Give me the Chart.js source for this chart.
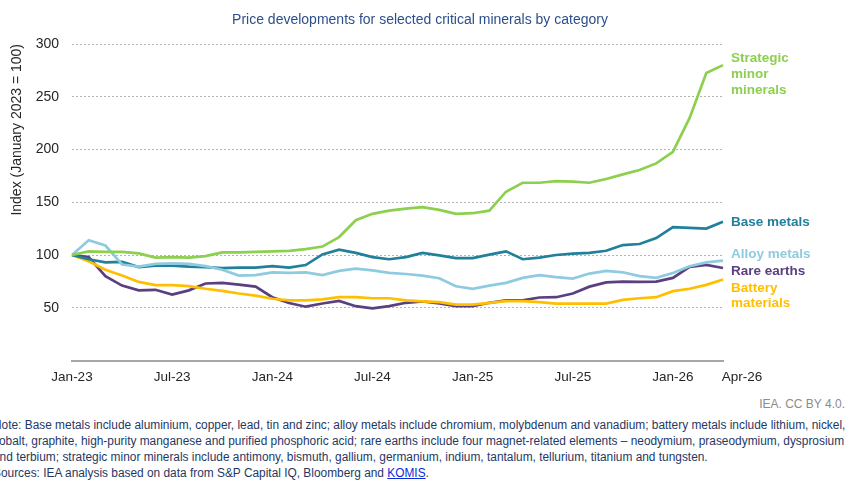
<!DOCTYPE html>
<html>
<head>
<meta charset="utf-8">
<script src="https://cdn.jsdelivr.net/npm/chart.js@4.4.1/dist/chart.umd.min.js"></script>
<style>
  body { margin: 0; background: #fff; font-family: "Liberation Sans", Arial, sans-serif; }
  #wrap { position: relative; width: 853px; height: 488px; overflow: hidden; }
  #box { position: absolute; left: 0; top: 0; width: 853px; height: 396px; }
  #title { position: absolute; left: 0; width: 840px; top: 11px; text-align: center;
           font-size: 14px; color: #2c4f8c; }
  #credit { position: absolute; right: 8px; top: 397px; font-size: 12px; color: #8c8c8c; }
  #notes { position: absolute; left: -7px; top: 417px; font-size: 12.5px; line-height: 16px;
           color: #1f3864; white-space: nowrap; transform: scaleX(0.951); transform-origin: 0 0; }
  #notes a { color: #0b2bd6; }
</style>
</head>
<body>
<div id="wrap">
  <div id="box"><canvas id="c"></canvas></div>
  <div id="title">Price developments for selected critical minerals by category</div>
  <div id="credit">IEA. CC BY 4.0.</div>
  <div id="notes">
    Note: Base metals include aluminium, copper, lead, tin and zinc; alloy metals include chromium, molybdenum and vanadium; battery metals include lithium, nickel,<br>
    cobalt, graphite, high-purity manganese and purified phosphoric acid; rare earths include four magnet-related elements – neodymium, praseodymium, dysprosium<br>
    and terbium; strategic minor minerals include antimony, bismuth, gallium, germanium, indium, tantalum, tellurium, titanium and tungsten.<br>
    Sources: IEA analysis based on data from S&amp;P Capital IQ, Bloomberg and <a href="#">KOMIS</a>.
  </div>
</div>
<script>
// months, Jan 2023 - Apr 2026
let months = [
    "Jan-23","Feb-23","Mar-23","Apr-23","May-23","Jun-23","Jul-23","Aug-23","Sep-23","Oct-23","Nov-23","Dec-23",
    "Jan-24","Feb-24","Mar-24","Apr-24","May-24","Jun-24","Jul-24","Aug-24","Sep-24","Oct-24","Nov-24","Dec-24",
    "Jan-25","Feb-25","Mar-25","Apr-25","May-25","Jun-25","Jul-25","Aug-25","Sep-25","Oct-25","Nov-25","Dec-25",
    "Jan-26","Feb-26","Mar-26","Apr-26"
];
let tickLabels = ["Jan-23","Jul-23","Jan-24","Jul-24","Jan-25","Jul-25","Jan-26","Apr-26"];

let strategic = [100,103.5,103,103,101.5,97.5,98,97.5,99,102.5,102.5,103,103.5,104,105.5,108,117,133,139,142,
                 144,145.3,142.8,139,139.6,142,160,168.5,168.5,170,169.5,168.5,172,176.4,180.5,186.8,197.8,230,272.6,280];
let baseMetals = [100,96,93,93.5,88.5,90,90,89,88.5,87.5,88,88,89.5,88,90.5,100.5,105,102,98,96,
                  98,102,99.7,97,97,100.3,103.5,96,97.5,100,101.3,102,104,109.4,110.4,116,126.4,125.8,125,131.4];
let alloyMetals = [100,114,109,91,89,91.5,92,91.5,89.5,86,80.5,81,83.5,83,83.5,81,85,87,85.5,83,
                   82,80.5,78,70.4,68,71,73.6,78.3,81,79,77.7,82.4,85,83.6,80,78.3,83,89.3,93,94.7];
let rareEarths = [100,98,80,71,66.5,67,62.5,66.5,73,73.5,72,70,60,54.5,51,54,56.5,51.5,49.5,51.5,
                  54.7,56,54,51.6,51.6,54.7,57,57,59.7,60,63.5,70,74,74.8,74.5,74.8,78.3,88.7,90.6,87.7];
let battery = [100,94,86,80.5,74.5,71.5,71.5,70.5,68,66,63.5,61.5,58.5,57,57,58,60,60,59,59,
               57,56,55.3,53,53,54.7,56.3,56.3,55.3,54,54,54,54,57.5,59,60,65.7,68,71.7,76.7];

let green = "#8dcf4e", teal = "#21809a", sky = "#8ecbe0", purple = "#5a4080", gold = "#ffbf00";
let font = '"Liberation Sans", Arial, sans-serif';

// series names written at the right end of the lines
let endLabels = {
    id: "endLabels",
    afterDraw(chart){
        let ctx = chart.ctx, area = chart.chartArea;
        let x = area.right + 8;
        let items = [
            { lines: ["Strategic","minor","minerals"], y: [58,74,90], color: green },
            { lines: ["Base metals"], y: [222], color: teal },
            { lines: ["Alloy metals"], y: [254], color: sky },
            { lines: ["Rare earths"], y: [271], color: purple },
            { lines: ["Battery","materials"], y: [288,303], color: gold }
        ];
        ctx.save();
        ctx.font = "bold 13.5px " + font;
        ctx.textAlign = "left";
        ctx.textBaseline = "middle";
        items.forEach(it => {
            ctx.fillStyle = it.color;
            it.lines.forEach((t, i) => ctx.fillText(t, x, it.y[i]));
        });
        // last tick label sits a bit right of its month, as in the source
        ctx.font = "13.5px " + font;
        ctx.fillStyle = "#262626";
        ctx.textAlign = "center";
        ctx.fillText(months[months.length - 1], area.right + 19, chart.scales.x.top + 9 + 8);
        ctx.restore();
    }
};

function line(label, data, color){
    return { label: label, data: data, borderColor: color, backgroundColor: color,
             borderWidth: 2.7, pointRadius: 0, tension: 0, fill: false };
}

new Chart(document.getElementById("c"), {
    type: "line",
    data: {
        labels: months,
        datasets: [
            line("Strategic minor minerals", strategic, green),
            line("Alloy metals", alloyMetals, sky),
            line("Base metals", baseMetals, teal),
            line("Battery materials", battery, gold),
            line("Rare earths", rareEarths, purple)
        ]
    },
    options: {
        responsive: true,
        maintainAspectRatio: false,
        animation: false,
        layout: { padding: { left: 0, right: 130, top: 44, bottom: 1.3 } },
        plugins: {
            legend: { display: false },
            tooltip: { enabled: false }
        },
        scales: {
            x: {
                grid: { display: false, drawTicks: false },
                border: { display: true, color: "#a6a6a6", width: 2 },
                ticks: {
                    autoSkip: false, maxRotation: 0, padding: 9,
                    color: "#262626", font: { size: 13.5, family: font },
                    callback: function(v, i){
                        let m = months[i];
                        if (i === months.length - 1) return "";
                        return tickLabels.includes(m) ? m : "";
                    }
                }
            },
            y: {
                min: 0, max: 300,
                afterFit(s){ s.width = 72; },
                grid: {
                    drawTicks: false,
                    color: ctx => ctx.tick && ctx.tick.value === 0 ? "rgba(0,0,0,0)" : "#b3b3b3",
                    lineWidth: 1
                },
                border: { display: false, dash: [2, 2] },
                ticks: {
                    stepSize: 50, padding: 13, color: "#262626",
                    font: { size: 14, family: font },
                    callback: v => v === 0 ? "" : v
                },
                title: {
                    display: true, text: "Index (January 2023 = 100)", align: "end",
                    color: "#262626", font: { size: 14, family: font },
                    padding: { top: 8.6, bottom: 0 }
                }
            }
        }
    },
    plugins: [endLabels]
});
</script>
</body>
</html>
